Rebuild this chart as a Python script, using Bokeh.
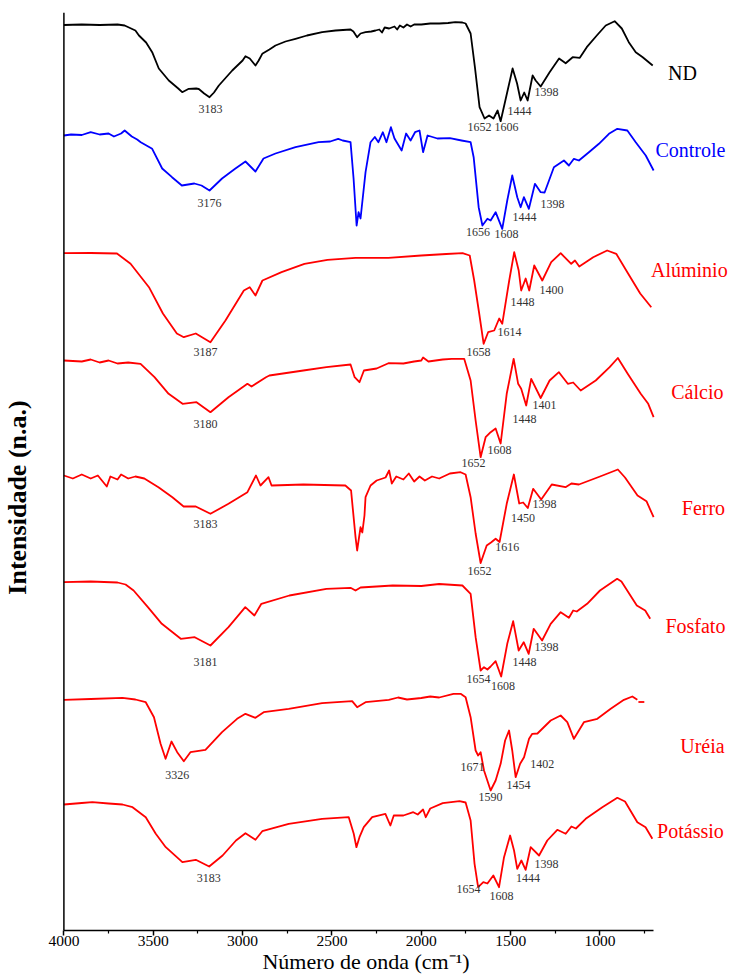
from math import pi
from bokeh.plotting import figure
from bokeh.models import Range1d, FixedTicker, Span, ColumnDataSource
from bokeh.core.properties import value
from bokeh.embed import file_html
from bokeh.resources import INLINE

SERIF = "Liberation Serif"

# (wavenumber cm-1, stacked intensity position)
ND = [(4000, 24.5), (3900, 24), (3800, 24.5), (3700, 24), (3660, 25), (3600, 30), (3580, 35), (3540, 42),
      (3506, 51.7), (3469, 68), (3413, 80), (3360, 88), (3338, 91.7), (3301, 88.3), (3260, 88), (3245, 88.5),
      (3215, 93), (3185, 96.7), (3160, 92), (3133, 85), (3058, 70), (3000, 60), (2984, 55.7), (2960, 58),
      (2928, 65), (2910, 60), (2890, 53.3), (2850, 49), (2816, 45), (2760, 41), (2704, 38.3), (2640, 35),
      (2555, 31.7), (2480, 30), (2396, 29), (2380, 31), (2359, 36.7), (2340, 33), (2312, 31.7), (2280, 31),
      (2256, 30), (2235, 29), (2220, 32), (2205, 27), (2180, 28), (2150, 26), (2135, 29), (2120, 25),
      (2100, 27), (2080, 24), (2060, 26), (2040, 24), (2000, 24), (1950, 23), (1900, 23), (1850, 22.5),
      (1810, 21.7), (1770, 22), (1752, 23), (1724, 33), (1700, 66.7), (1674, 106.7), (1646, 118), (1621, 115),
      (1596, 118), (1573, 110), (1556, 120.7), (1517, 90), (1489, 68), (1464, 83), (1444, 100), (1424, 92),
      (1405, 100), (1377, 75), (1360, 80), (1332, 86), (1282, 71.7), (1229, 58), (1192, 62.7), (1153, 56.7),
      (1113, 57.3), (1074, 46.7), (1018, 35), (968, 25), (918, 20.7), (878, 28), (839, 41.7), (800, 51.7),
      (761, 56.7), (705, 65)]

CONTROLE = [(4000, 135), (3960, 134), (3900, 134.5), (3850, 131.7), (3800, 134), (3750, 133), (3720, 136),
            (3680, 133), (3660, 130), (3620, 136), (3590, 139), (3570, 141.7), (3506, 148.3), (3450, 168),
            (3395, 176.7), (3340, 185), (3270, 183), (3230, 185), (3185, 190), (3115, 178), (3040, 168),
            (2984, 161), (2928, 171), (2883, 158), (2816, 153), (2704, 146.7), (2575, 141.7), (2510, 141),
            (2465, 138.3), (2440, 140), (2396, 141.7), (2379, 178), (2362, 225), (2351, 211.7), (2340, 218),
            (2312, 171.7), (2284, 141.7), (2260, 136.5), (2240, 141.7), (2215, 131.7), (2195, 141.7),
            (2170, 126.7), (2150, 138), (2110, 150), (2085, 133), (2060, 140), (2035, 131.7), (2010, 130),
            (1990, 151.7), (1965, 135), (1910, 138), (1840, 137.7), (1775, 140), (1724, 141.7), (1707, 156.7),
            (1679, 206.7), (1658, 225), (1630, 218.3), (1612, 220), (1584, 211.7), (1547, 228.3), (1519, 200),
            (1491, 175), (1463, 196.7), (1444, 206.7), (1426, 196.7), (1398, 208.3), (1364, 183.3),
            (1332, 191.7), (1310, 192), (1258, 166.7), (1202, 160), (1174, 165), (1146, 158.3), (1118, 160),
            (1062, 151.7), (1006, 143.3), (950, 133.3), (903, 128.3), (847, 130), (800, 141.7), (744, 155),
            (700, 170)]

ALUMINIO = [(4000, 252.7), (3850, 252.5), (3703, 253), (3627, 263.3), (3524, 286.7), (3446, 313), (3368, 333),
            (3329, 336.7), (3262, 333), (3180, 341.7), (3096, 320), (2993, 290), (2960, 286.7), (2928, 295),
            (2889, 280), (2782, 271.7), (2654, 263.3), (2525, 259.3), (2368, 257.3), (2184, 257.3), (2000, 255),
            (1860, 253.5), (1769, 252.7), (1729, 255), (1704, 280), (1676, 313), (1651, 343.3), (1626, 331.7),
            (1592, 330), (1564, 318), (1547, 323.3), (1508, 280), (1480, 251.7), (1455, 270), (1441, 290),
            (1416, 278), (1396, 290), (1368, 265), (1323, 280), (1273, 261.7), (1220, 252.7), (1161, 263.3),
            (1140, 260), (1116, 266), (1038, 256.7), (960, 250), (909, 253.3), (842, 273.3), (775, 293),
            (713, 306.7)]

CALCIO = [(4000, 360), (3900, 361), (3850, 359), (3800, 362), (3750, 360), (3700, 363), (3640, 362),
          (3571, 363.3), (3493, 376.7), (3414, 393.3), (3336, 403.3), (3258, 401.7), (3180, 411.7), (3079, 396.7),
          (2973, 383.3), (2950, 386), (2869, 376.7), (2850, 375), (2660, 370), (2531, 366.7), (2396, 364),
          (2373, 376.7), (2346, 381.7), (2321, 370), (2250, 368), (2184, 362.7), (2100, 363), (2040, 361),
          (2000, 360), (1990, 357), (1960, 361), (1880, 359), (1830, 358.3), (1760, 358.3), (1724, 380),
          (1696, 420), (1668, 456.7), (1640, 436.7), (1612, 431.7), (1584, 428), (1556, 443), (1522, 393.3),
          (1483, 358.3), (1458, 383.3), (1441, 388.3), (1413, 405), (1385, 378.3), (1332, 397.5), (1282, 380),
          (1230, 371.7), (1180, 383.3), (1150, 382), (1108, 390), (1024, 380), (946, 366.7), (900, 357.5),
          (845, 373.3), (772, 393.3), (730, 403.3), (700, 416.7)]

FERRO = [(4000, 475), (3950, 478), (3900, 474), (3850, 478), (3810, 475), (3760, 486), (3740, 476), (3700, 479),
         (3680, 474), (3640, 478), (3600, 476), (3550, 478), (3471, 486.7), (3393, 496.7), (3330, 506),
         (3262, 506), (3180, 513.3), (3079, 503.3), (2973, 491.7), (2925, 475), (2900, 485), (2855, 476.7),
         (2838, 485), (2660, 484), (2425, 485), (2393, 490), (2368, 536.7), (2359, 550), (2340, 526.7),
         (2330, 532), (2318, 515), (2312, 496.7), (2284, 485), (2250, 480), (2200, 477), (2180, 470),
         (2165, 483), (2140, 476), (2100, 479), (2070, 473), (2040, 481), (2010, 476), (1980, 480), (1940, 476),
         (1900, 478), (1840, 473), (1780, 471.7), (1752, 474), (1724, 496.7), (1696, 533), (1668, 562.5),
         (1634, 545), (1610, 542), (1584, 538.3), (1562, 541.5), (1522, 503.3), (1482, 474), (1452, 503),
         (1430, 502), (1404, 507.5), (1374, 488.3), (1329, 499), (1270, 484), (1193, 486.7), (1160, 483),
         (1118, 484), (1000, 476), (900, 469), (860, 477), (790, 495), (740, 500.7), (700, 516.7)]

FOSFATO = [(4000, 581.7), (3850, 581), (3700, 582), (3655, 584), (3610, 590), (3530, 606.7), (3452, 623.3),
           (3346, 638.3), (3268, 636.7), (3180, 645), (3079, 626.7), (2985, 606.7), (2934, 615), (2895, 603.3),
           (2738, 595), (2531, 588.3), (2396, 587.3), (2368, 590), (2340, 587), (2160, 585), (2000, 585.5),
           (1900, 583.5), (1770, 585), (1724, 593.3), (1696, 636.7), (1668, 670), (1649, 666.7), (1630, 669),
           (1612, 666), (1584, 660.7), (1553, 676), (1519, 643.3), (1486, 620.7), (1455, 650), (1427, 641.7),
           (1399, 653.3), (1371, 628.3), (1324, 640), (1276, 623.3), (1220, 611.7), (1174, 617.3), (1150, 610),
           (1130, 611), (1072, 603.3), (1000, 590), (904, 578.3), (880, 581), (794, 605), (747, 610),
           (719, 618.3)]

UREIA = [(4000, 699.3), (3850, 698.5), (3672, 697.3), (3600, 699), (3542, 701.7), (3496, 716.7), (3459, 743.3),
         (3431, 758.3), (3398, 741), (3366, 751.7), (3329, 760.7), (3292, 751.7), (3208, 749.3), (3115, 731.7),
         (3031, 718.3), (2984, 713.3), (2928, 717.3), (2882, 711.7), (2742, 708.3), (2555, 702.7),
         (2387, 700.7), (2359, 706.7), (2312, 701.7), (2182, 699.3), (2130, 697), (2080, 699), (2000, 697.5),
         (1950, 696), (1900, 697), (1820, 693.3), (1780, 693.3), (1752, 696.7), (1724, 716.7), (1696, 750),
         (1682, 755), (1668, 751.7), (1649, 770), (1612, 790), (1584, 780), (1556, 763.3), (1531, 740),
         (1509, 730), (1491, 750), (1472, 776.7), (1447, 763.3), (1425, 756.7), (1397, 738.3), (1379, 733.3),
         (1350, 733), (1276, 720), (1220, 715), (1183, 721.7), (1146, 738.3), (1090, 721.7), (1015, 718.3),
         (940, 708.3), (866, 699.3), (819, 696), (791, 699.3)]
UREIA_TAIL = [(785, 701.5), (752, 701.5)]

POTASSIO = [(4000, 804), (3900, 802.5), (3841, 801.7), (3750, 803), (3672, 804), (3616, 806.7), (3542, 816.7),
            (3486, 833.3), (3430, 846.7), (3337, 861.7), (3262, 859.3), (3187, 866), (3112, 855), (3037, 840),
            (2984, 832.7), (2928, 839.3), (2890, 830.7), (2742, 823.3), (2555, 818.3), (2406, 816.7),
            (2378, 833.3), (2363, 846.7), (2346, 836.7), (2322, 826.7), (2275, 816.7), (2201, 813.3),
            (2173, 825), (2154, 815), (2100, 815), (2045, 811.7), (2020, 814), (1990, 809), (1975, 816.7),
            (1950, 808), (1880, 802.7), (1786, 800.7), (1752, 802), (1724, 820), (1702, 863.3), (1682, 886.7),
            (1653, 881.7), (1630, 883), (1597, 875), (1565, 886.7), (1537, 856.7), (1503, 835), (1481, 850),
            (1463, 868.3), (1440, 860), (1416, 869.3), (1388, 846.7), (1341, 855), (1295, 840), (1239, 829.3),
            (1192, 833.3), (1160, 826), (1135, 828), (1080, 818.3), (987, 806.7), (903, 797.3), (860, 801),
            (791, 821.7), (745, 826.7), (707, 838.3)]

SAMPLES = ["ND", "Controle", "Alúminio", "Cálcio", "Ferro", "Fosfato", "Uréia", "Potássio"]
SAMPLE_COLORS = ["#000000", "#0000ff", "#ff0000", "#ff0000", "#ff0000", "#ff0000", "#ff0000", "#ff0000"]
SPECTRA = [ND, CONTROLE, ALUMINIO, CALCIO, FERRO, FOSFATO, UREIA, POTASSIO]
NAME_WN = [538, 494, 500, 455, 421, 466, 427, 494]
NAME_Y = [72, 149, 269, 391, 507, 625, 745, 830]

# peak annotations: (text, wavenumber position, vertical position)
PEAKS = [("3183", 3180, 108.3), ("1652", 1674, 126.7), ("1606", 1523, 126.7), ("1444", 1450, 110), ("1398", 1299, 91.7),
         ("3176", 3185, 202.3), ("1656", 1683, 231.7), ("1608", 1523, 233.3), ("1444", 1422, 216.7), ("1398", 1266, 203.3),
         ("3187", 3208, 351.7), ("1658", 1680, 351.7), ("1614", 1506, 331.7), ("1448", 1434, 301.7), ("1400", 1271, 289.3),
         ("3180", 3208, 423.3), ("1652", 1708, 462.7), ("1608", 1562, 449), ("1448", 1422, 418.3), ("1401", 1311, 404),
         ("3183", 3208, 523.3), ("1652", 1674, 570), ("1616", 1519, 546.7), ("1450", 1431, 517.7), ("1398", 1311, 503.3),
         ("3181", 3208, 661.7), ("1654", 1680, 678.3), ("1608", 1543, 685), ("1448", 1422, 661.7), ("1398", 1299, 646),
         ("3326", 3366, 774), ("1671", 1713, 766), ("1590", 1613, 796.7), ("1454", 1456, 784), ("1402", 1323, 763.3),
         ("3183", 3189, 877.3), ("1654", 1736, 888), ("1608", 1551, 895), ("1444", 1403, 877.7), ("1398", 1299, 863.3)]

X_TICKS = [4000, 3500, 3000, 2500, 2000, 1500, 1000]
X_MINOR = [3750, 3250, 2750, 2250, 1750, 1250, 750]

p = figure(width=731, height=976, output_backend="svg", toolbar_location=None,
           x_range=Range1d(4354.8, 264.1), y_range=Range1d(930, 12),
           y_axis_location=None, min_border_left=0, min_border_right=0,
           min_border_top=12, min_border_bottom=46)
p.outline_line_color = None
p.xgrid.grid_line_color = None
p.ygrid.grid_line_color = None
p.background_fill_color = "white"
p.border_fill_color = "white"

for pts, col in zip(SPECTRA, SAMPLE_COLORS):
    xs = [a for a, b in pts]
    ys = [b for a, b in pts]
    p.line(xs, ys, line_color=col, line_width=1.8, line_join="round")
p.line([a for a, b in UREIA_TAIL], [b for a, b in UREIA_TAIL], line_color="#ff0000", line_width=1.8)

# left axis line
p.add_layout(Span(location=4000, dimension="height", line_color="black", line_width=1.5))

ax = p.xaxis[0]
ax.bounds = (700, 4000)
ax.ticker = FixedTicker(ticks=X_TICKS, minor_ticks=X_MINOR)
ax.axis_line_width = 1.5
ax.axis_line_color = "black"
ax.major_tick_line_width = 1.5
ax.major_tick_out = 5
ax.major_tick_in = 0
ax.minor_tick_line_width = 1.2
ax.minor_tick_out = 3
ax.minor_tick_in = 0
ax.major_label_text_font = SERIF
ax.major_label_text_font_size = "15.5px"
ax.major_label_text_color = "black"
ax.major_label_standoff = 0
ax.axis_label = "Número de onda (cm⁻¹)"
ax.axis_label_text_font = SERIF
ax.axis_label_text_font_size = "22px"
ax.axis_label_text_font_style = "normal"
ax.axis_label_text_color = "black"
ax.axis_label_standoff = 0

# y axis title
p.text(x=[4262], y=[497], text=["Intensidade (n.a.)"], angle=pi / 2,
       text_align="center", text_baseline="middle", text_font=value(SERIF),
       text_font_size="26px", text_font_style="bold", text_color="black")

# peak labels
peak_src = ColumnDataSource(dict(x=[w for t, w, y in PEAKS], y=[y for t, w, y in PEAKS],
                                 t=[t for t, w, y in PEAKS]))
p.text(x="x", y="y", text="t", source=peak_src, text_align="center", text_baseline="middle",
       text_font=value(SERIF), text_font_size="12px", text_color="#333333")

# sample names
name_src = ColumnDataSource(dict(x=NAME_WN, y=NAME_Y, t=SAMPLES, c=SAMPLE_COLORS))
p.text(x="x", y="y", text="t", source=name_src, text_color="c", text_align="center",
       text_baseline="middle", text_font=value(SERIF), text_font_size="20px")

open("out.html", "w").write(file_html(p, INLINE))
